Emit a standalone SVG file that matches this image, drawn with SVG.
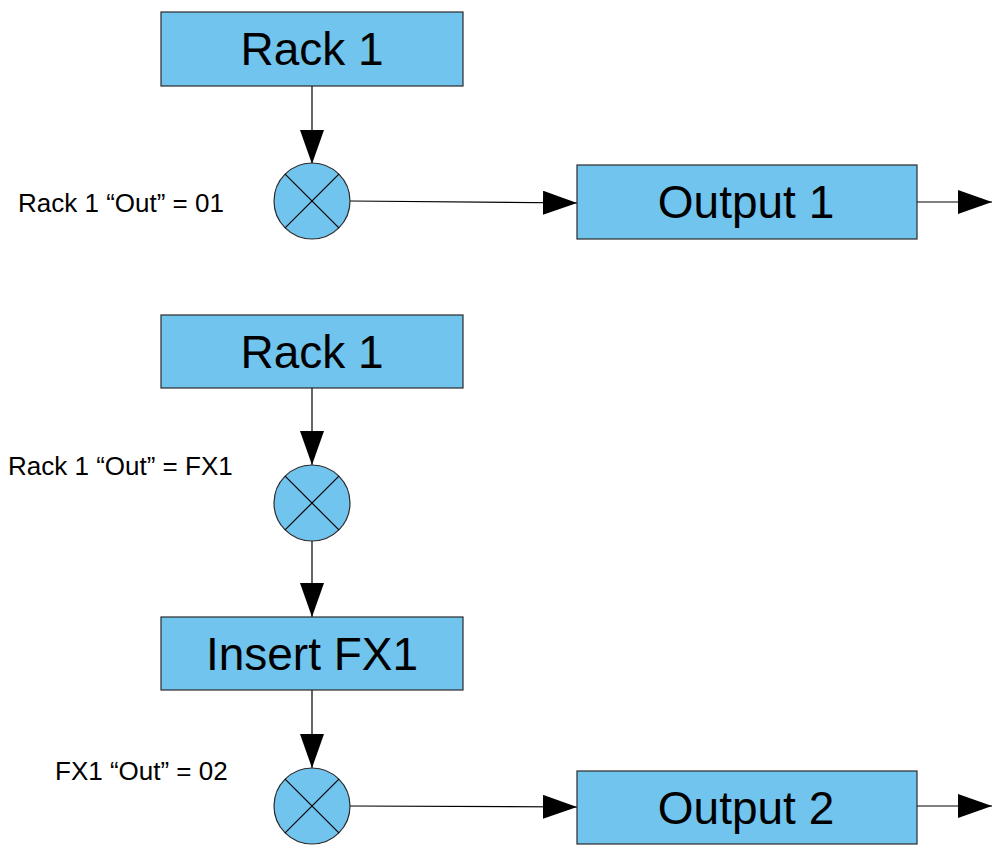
<svg xmlns="http://www.w3.org/2000/svg" width="993" height="854" viewBox="0 0 993 854">
<style>
.box{fill:#70c4ee;stroke:#2a2a2a;stroke-width:1.2}
.bt{font-family:"Liberation Sans",Arial,sans-serif;font-size:46px;fill:#000;text-anchor:middle}
.lbl{font-family:"Liberation Sans",Arial,sans-serif;font-size:26px;fill:#000}
.con{stroke:#000;stroke-width:1.2;fill:none}
.x{stroke:#000;stroke-width:1.2}
</style>
<defs>
<marker id="ah" markerUnits="userSpaceOnUse" markerWidth="34" markerHeight="24" refX="34" refY="12" orient="auto">
<path d="M0,0 L34,12 L0,24 Z" fill="#000"/>
</marker>
</defs>
<rect width="993" height="854" fill="#fff"/>
<g id="connectors">
<line class="con" x1="312" y1="86" x2="312" y2="164" marker-end="url(#ah)"/>
<line class="con" x1="350" y1="201" x2="577" y2="203" marker-end="url(#ah)"/>
<line class="con" x1="917" y1="202" x2="992" y2="202" marker-end="url(#ah)"/>
<line class="con" x1="312" y1="388" x2="312" y2="465" marker-end="url(#ah)"/>
<line class="con" x1="312" y1="541" x2="312" y2="617" marker-end="url(#ah)"/>
<line class="con" x1="312" y1="690" x2="312" y2="768" marker-end="url(#ah)"/>
<line class="con" x1="350" y1="806" x2="577" y2="807" marker-end="url(#ah)"/>
<line class="con" x1="917" y1="806" x2="992" y2="806" marker-end="url(#ah)"/>
</g>
<g id="rack1a">
<rect class="box" x="161" y="12" width="302" height="74"/>
<text class="bt" x="312" y="65">Rack 1</text>
</g>
<g id="mix1">
<circle class="box" cx="312" cy="201" r="38"/>
<line class="x" x1="285.1" y1="174.1" x2="338.9" y2="227.9"/>
<line class="x" x1="338.9" y1="174.1" x2="285.1" y2="227.9"/>
</g>
<g id="label1"><text class="lbl" x="18" y="212">Rack 1 “Out” = 01</text></g>
<g id="output1">
<rect class="box" x="577" y="165" width="340" height="74"/>
<text class="bt" x="746" y="218">Output 1</text>
</g>
<g id="rack1b">
<rect class="box" x="161" y="315" width="302" height="73"/>
<text class="bt" x="312" y="368">Rack 1</text>
</g>
<g id="label2"><text class="lbl" x="8" y="475">Rack 1 “Out” = FX1</text></g>
<g id="mix2">
<circle class="box" cx="312" cy="503" r="38"/>
<line class="x" x1="285.1" y1="476.1" x2="338.9" y2="529.9"/>
<line class="x" x1="338.9" y1="476.1" x2="285.1" y2="529.9"/>
</g>
<g id="insertfx1">
<rect class="box" x="161" y="617" width="302" height="73"/>
<text class="bt" x="312" y="670">Insert FX1</text>
</g>
<g id="label3"><text class="lbl" x="55" y="780">FX1 “Out” = 02</text></g>
<g id="mix3">
<circle class="box" cx="312" cy="806" r="38"/>
<line class="x" x1="285.1" y1="779.1" x2="338.9" y2="832.9"/>
<line class="x" x1="338.9" y1="779.1" x2="285.1" y2="832.9"/>
</g>
<g id="output2">
<rect class="box" x="577" y="771" width="340" height="73"/>
<text class="bt" x="746" y="824">Output 2</text>
</g>
</svg>
